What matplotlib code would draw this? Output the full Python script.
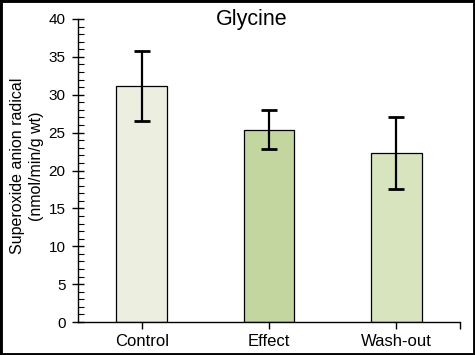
import matplotlib
matplotlib.use("Agg")
import matplotlib.pyplot as plt
from matplotlib.patches import Rectangle
from matplotlib.ticker import MultipleLocator, FixedLocator

categories = ["Control", "Effect", "Wash-out"]
values = [31.2, 25.4, 22.3]
errors = [4.6, 2.6, 4.7]
colors = ["#ECEEDF", "#C4D6A0", "#D7E4BD"]
yticks = [0, 5, 10, 15, 20, 25, 30, 35, 40]

plt.rcParams['font.family'] = ['Liberation Sans', 'DejaVu Sans']

fig = plt.figure(figsize=(4.75, 3.55), dpi=100)
ax = fig.add_axes([78/475, 1-322/355, 382/475, 303/355])

x = list(range(len(categories)))
ax.bar(x, values, width=0.4, color=colors, edgecolor="black", linewidth=0.9, zorder=2)
ax.errorbar(x, values, yerr=errors, fmt="none", ecolor="black", elinewidth=1.6,
            capsize=6, capthick=2, zorder=3)

ax.set_xlim(-0.5, 2.5)
ax.set_ylim(0, 40)
ax.set_yticks(yticks)
ax.yaxis.set_minor_locator(MultipleLocator(1))
ax.set_xticks(x)
ax.set_xticklabels(categories)
ax.xaxis.set_minor_locator(FixedLocator([2.5]))

for s in ["top", "right"]:
    ax.spines[s].set_visible(False)
for s in ["left", "bottom"]:
    ax.spines[s].set_linewidth(1.0)

ax.tick_params(axis="y", which="major", direction="inout", length=8, width=1, labelsize=11, pad=5)
ax.tick_params(axis="y", which="minor", direction="in", length=4, width=0.8)
ax.tick_params(axis="x", which="major", direction="out", length=5, width=1, labelsize=12, pad=4)
ax.tick_params(axis="x", which="minor", direction="out", length=5, width=1)

fig.text(27/475, 1-166/355, "Superoxide anion radical\n(nmol/min/g wt)", rotation=90,
         ha="center", va="center", fontsize=11.5, linespacing=1.25)
fig.text(252/475, 1-19/355, "Glycine", ha="center", va="center", fontsize=15.5)

fig.patches.append(Rectangle((0, 0), 1, 1, transform=fig.transFigure, fill=False,
                             edgecolor="black", linewidth=3.5, zorder=10))

fig.savefig("out.png", dpi=100, facecolor="white")
